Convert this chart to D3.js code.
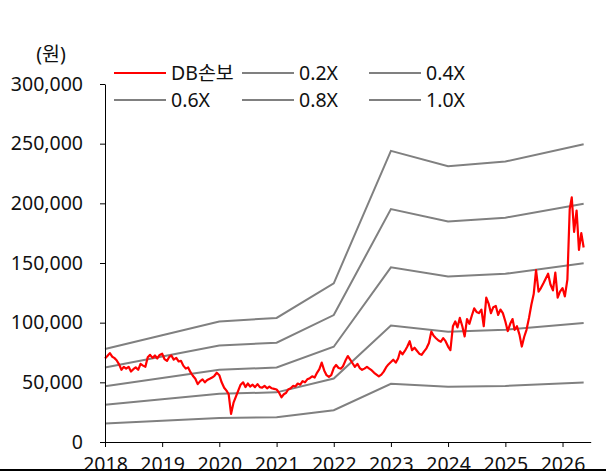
<!DOCTYPE html>
<html>
<head>
<meta charset="utf-8">
<script src="https://cdn.jsdelivr.net/npm/d3@7/dist/d3.min.js"></script>
<style>
  body { margin: 0; background: #fff; }
  svg { display: block; font-family: "Noto Sans", "Noto Sans CJK KR", sans-serif; }
</style>
</head>
<body>
<svg id="chart" width="606" height="472"></svg>
<script>

// DB손보 share price, thousand won, two readings a month (1st and 16th)
var price2018 = [70, 72, 74.5, 71.5, 70.5, 68.5, 65, 60.5, 63, 61.5, 63, 59, 61, 62.5, 60.5, 65.5, 64, 63, 71, 73, 70.5, 72.5, 70, 73];
var price2019 = [74, 69.5, 68, 71.5, 72.5, 69, 70.5, 67.5, 68, 64, 61.5, 62.5, 58.5, 55.5, 53, 48.5, 51, 52.5, 50, 52, 53, 54, 55.5, 58];
var price2020 = [56, 50, 45.5, 43, 40, 23.5, 33, 38, 43, 48, 50, 46, 49, 46.5, 48, 46, 48.5, 46, 45.5, 47, 45, 46.5, 45, 44.5];
var price2021 = [44, 41.5, 37.5, 40, 41, 44, 45, 47, 46.5, 49, 48, 51, 50, 52.5, 53.5, 55, 54, 58, 61, 66.5, 60, 56, 54.5, 56];
var price2022 = [62, 64.5, 62, 61.5, 63.5, 68, 72, 69, 66, 63, 65.5, 62, 60.5, 61.5, 63, 61.5, 60, 58, 56.5, 55, 56.5, 59, 62.5, 65];
var price2023 = [67, 69, 66.5, 70, 76, 73.5, 76.5, 80, 84.5, 77, 79, 76.5, 74, 73, 76, 78.5, 83, 92.5, 89, 87, 85, 84, 87, 84.5];
var price2024 = [80, 77, 97, 101, 96, 104, 97, 88.5, 103, 99, 106, 112, 109, 108, 111, 97, 121, 116, 108, 113, 114, 106.5, 111, 108];
var price2025 = [101, 93, 99, 103, 94, 97, 90, 80, 88, 94, 104, 115, 124, 144, 126, 129, 133, 137, 141, 132, 127, 142, 121, 126];
var price2026 = [129, 122, 136, 195, 205, 176, 194, 161, 175, 163];
var priceYears = [2018, 2019, 2020, 2021, 2022, 2023, 2024, 2025, 2026];

// book value per share (won) used for the PBR bands
var bpsDates = ['2018-01-01', '2019-01-01', '2020-01-01', '2021-01-01', '2022-01-01', '2023-01-01', '2024-01-01', '2025-01-01', '2026-05-16'];
var bpsValues = [78000, 89500, 101000, 104000, 133000, 244000, 231000, 235000, 249500];
var multiples = [0.2, 0.4, 0.6, 0.8, 1.0];
var bandLabels = ['0.2X', '0.4X', '0.6X', '0.8X', '1.0X'];

var yTicks = [0, 50000, 100000, 150000, 200000, 250000, 300000];
var xTickYears = [2018, 2019, 2020, 2021, 2022, 2023, 2024, 2025, 2026];
var unitLabel = '(원)';
var stockLabel = 'DB손보';

var fontSize = 19.5;
var textColor = '#111';

var svg = d3.select('#chart');
var parseDate = d3.timeParse('%Y-%m-%d');

var x = d3.scaleTime()
  .domain([new Date(2018, 0, 1), new Date(2026, 5, 30)])
  .range([105, 590.7]);
var y = d3.scaleLinear()
  .domain([0, 300000])
  .range([442, 84]);

function buildPrices() {
  var all = [price2018, price2019, price2020, price2021, price2022, price2023, price2024, price2025, price2026];
  var points = [];
  all.forEach(function (vals, k) {
    vals.forEach(function (v, i) {
      var month = Math.floor(i / 2);
      var day = i % 2 === 0 ? 1 : 16;
      points.push({ date: new Date(priceYears[k], month, day), value: v * 1000 });
    });
  });
  return points;
}

function drawAxes() {
  var yAxis = d3.axisLeft(y)
    .tickValues(yTicks)
    .tickSize(5)
    .tickSizeOuter(0)
    .tickPadding(17)
    .tickFormat(d3.format(','));
  var xAxis = d3.axisBottom(x)
    .tickValues(xTickYears.map(function (yr) { return new Date(yr, 0, 1); }))
    .tickSize(5)
    .tickSizeOuter(0)
    .tickPadding(10)
    .tickFormat(d3.timeFormat('%Y'));

  var gy = svg.append('g').attr('transform', 'translate(105,0)').call(yAxis);
  var gx = svg.append('g').attr('transform', 'translate(0,442)').call(xAxis);
  [gx, gy].forEach(function (g) {
    // drop d3's default sans-serif so the svg font applies
    g.attr('font-family', null).attr('font-size', fontSize);
    g.selectAll('path, line').attr('stroke', '#000').attr('stroke-width', 1);
    g.selectAll('text').attr('fill', textColor);
  });

  svg.append('text')
    .attr('x', 51)
    .attr('y', 61)
    .attr('text-anchor', 'middle')
    .attr('font-size', fontSize)
    .attr('fill', textColor)
    .text(unitLabel);
}

function drawLines() {
  var line = d3.line()
    .x(function (d) { return x(d.date); })
    .y(function (d) { return y(d.value); });

  // PBR bands first, price on top
  multiples.forEach(function (m) {
    var band = bpsDates.map(function (s, i) {
      return { date: parseDate(s), value: bpsValues[i] * m };
    });
    svg.append('path')
      .datum(band)
      .attr('fill', 'none')
      .attr('stroke', '#808080')
      .attr('stroke-width', 2)
      .attr('d', line);
  });

  svg.append('path')
    .datum(buildPrices())
    .attr('fill', 'none')
    .attr('stroke', '#ff0000')
    .attr('stroke-width', 2.2)
    .attr('stroke-linejoin', 'round')
    .attr('d', line);
}

function drawLegend() {
  var items = [{ label: stockLabel, color: '#ff0000' }].concat(bandLabels.map(function (l) {
    return { label: l, color: '#808080' };
  }));
  var colX = [114, 242, 369];
  var rowY = [73, 100];
  items.forEach(function (item, i) {
    var lx = colX[i % 3];
    var ly = rowY[Math.floor(i / 3)];
    svg.append('line')
      .attr('x1', lx).attr('x2', lx + 52)
      .attr('y1', ly).attr('y2', ly)
      .attr('stroke', item.color)
      .attr('stroke-width', 2);
    svg.append('text')
      .attr('x', lx + 57)
      .attr('y', ly)
      .attr('dy', '0.36em')
      .attr('font-size', fontSize)
      .attr('fill', textColor)
      .text(item.label);
  });
}

drawLines();
drawAxes();
drawLegend();

// border line along the bottom edge of the source image
svg.append('line')
  .attr('x1', 0).attr('x2', 606)
  .attr('y1', 470).attr('y2', 470)
  .attr('stroke', '#000')
  .attr('stroke-width', 2);

</script>
</body>
</html>
